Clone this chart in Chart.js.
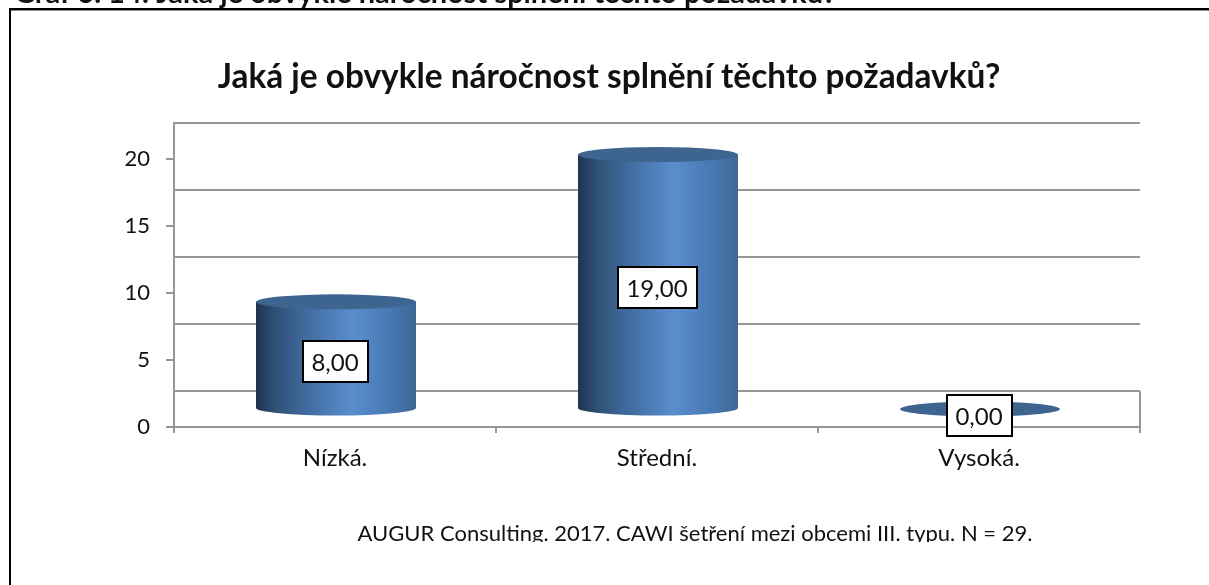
<!DOCTYPE html>
<html><head><meta charset="utf-8">
<style>html,body{margin:0;padding:0;background:#fff;overflow:hidden}#w{width:1209px;height:585px;position:relative}canvas{display:block}</style>
<script src="https://cdn.jsdelivr.net/npm/chart.js@4"></script>
</head><body><div id="w"><canvas id="c" width="1209" height="585"></canvas></div>
<script>
const categories = ["Nízká.", "Střední.", "Vysoká."];
const values = [8, 19, 0];
const valueLabels = ["8,00", "19,00", "0,00"];
const yTicks = [0, 5, 10, 15, 20];
const chartTitle = "Jaká je obvykle náročnost splnění těchto požadavků?";
const heading = "Graf 6. 14: Jaká je obvykle náročnost splnění těchto požadavků?";
const source = "AUGUR Consulting. 2017. CAWI šetření mezi obcemi III. typu. N = 29.";
const FONT = "Lato, Carlito, 'Open Sans', sans-serif";
const GRID = "#969696";
const DEPTH = 36;

const scene = {
  id: "scene",
  beforeDraw(chart) {
    const c = chart.ctx;
    c.save();
    c.fillStyle = "#fff"; c.fillRect(0, 0, chart.width, chart.height);
    c.fillStyle = "#000";
    c.fillRect(9, 8, chart.width - 9, 2);
    c.fillStyle = "#8c8c8c";
    c.fillRect(11, 10, chart.width - 11, 1);
    c.fillStyle = "#000";
    c.fillRect(9, 8, 2, chart.height - 8);
    c.save();
    c.beginPath(); c.rect(0, 0, chart.width, 8); c.clip();
    c.font = "bold 29px " + FONT;
    c.textAlign = "left"; c.textBaseline = "alphabetic";
    c.fillStyle = "#111";
    c.fillText(heading, 14, 3);
    c.restore();
    c.beginPath(); c.rect(0, 500, chart.width, 42); c.clip();
    c.font = "22px " + FONT;
    c.textAlign = "center"; c.textBaseline = "alphabetic";
    c.fillStyle = "#111";
    c.fillText(source, 695, 541);
    c.restore();
  },
  beforeDatasetsDraw(chart) {
    const c = chart.ctx, y = chart.scales.y, a = chart.chartArea;
    c.save();
    c.strokeStyle = GRID; c.lineWidth = 2;
    yTicks.forEach(v => {
      const p = Math.round(y.getPixelForValue(v)) - DEPTH;
      c.beginPath(); c.moveTo(a.left, p); c.lineTo(a.right, p); c.stroke();
    });
    const fl = Math.round(y.getPixelForValue(0));
    c.beginPath(); c.moveTo(a.right, fl - DEPTH); c.lineTo(a.right, fl); c.stroke();

    const shift = DEPTH / 2, ry = 7.5;
    chart.getDatasetMeta(0).data.forEach(el => {
      const cx = el.x + 1, rx = el.width / 2, L = cx - rx, R = cx + rx;
      const top = el.y - shift, bot = el.base - shift;
      const g = c.createLinearGradient(L, 0, R, 0);
      g.addColorStop(0, "#1f3450");
      g.addColorStop(0.12, "#2f5075");
      g.addColorStop(0.3, "#40699c");
      g.addColorStop(0.6, "#5a8ecf");
      g.addColorStop(0.85, "#4677b0");
      g.addColorStop(1, "#3e6794");
      if (bot - top > 1) {
        c.fillStyle = g;
        c.beginPath();
        c.moveTo(L, top);
        c.lineTo(L, bot);
        c.ellipse(cx, bot, rx, ry, 0, Math.PI, 0, true);
        c.lineTo(R, top);
        c.closePath();
        c.fill();
      }
      c.fillStyle = "#3e6590";
      c.beginPath(); c.ellipse(cx, top, rx, ry, 0, 0, Math.PI * 2); c.fill();
    });
    c.restore();
  },
  afterDatasetsDraw(chart) {
    const c = chart.ctx;
    c.save();
    c.font = "24px " + FONT;
    c.textAlign = "center"; c.textBaseline = "middle";
    chart.getDatasetMeta(0).data.forEach((el, i) => {
      const t = valueLabels[i];
      const w = Math.round(c.measureText(t).width) + 18, h = 41;
      const cy = Math.round((el.y + el.base) / 2) - 11;
      const x0 = Math.round(el.x - w / 2), y0 = cy - Math.round(h / 2);
      c.fillStyle = "#fff"; c.fillRect(x0, y0, w, h);
      c.strokeStyle = "#000"; c.lineWidth = 2; c.strokeRect(x0, y0, w, h);
      c.fillStyle = "#111";
      c.fillText(t, el.x, cy + 1);
    });
    c.restore();
  }
};

new Chart(document.getElementById("c"), {
  type: "bar",
  data: {
    labels: categories,
    datasets: [{ data: values, barThickness: 160, backgroundColor: "rgba(0,0,0,0)", borderWidth: 0 }]
  },
  plugins: [scene],
  options: {
    responsive: false,
    animation: false,
    devicePixelRatio: 1,
    layout: { padding: { left: 78, right: 69, top: 0, bottom: 100 } },
    plugins: {
      legend: { display: false },
      tooltip: { enabled: false },
      title: {
        display: true, text: chartTitle, color: "#111",
        font: { family: FONT, size: 33.4, weight: "bold", lineHeight: 1.2 },
        padding: { top: 57, bottom: 26 }
      }
    },
    scales: {
      x: {
        grid: { offset: true, drawOnChartArea: false, color: GRID, lineWidth: 2, tickLength: 6, tickColor: GRID },
        border: { color: GRID, width: 2 },
        ticks: { color: "#111", font: { family: FONT, size: 24 }, padding: 11, maxRotation: 0 },
        afterFit(s) { s.height = 58; }
      },
      y: {
        min: 0, max: 22.69,
        afterBuildTicks(s) { s.ticks = yTicks.map(v => ({ value: v })); },
        grid: { drawOnChartArea: false, color: GRID, lineWidth: 2, tickLength: 8, tickColor: GRID },
        border: { color: GRID, width: 2 },
        ticks: { color: "#111", font: { family: FONT, size: 22 }, padding: 16 },
        afterFit(s) { s.width = 96; }
      }
    }
  }
});
</script></body></html>
